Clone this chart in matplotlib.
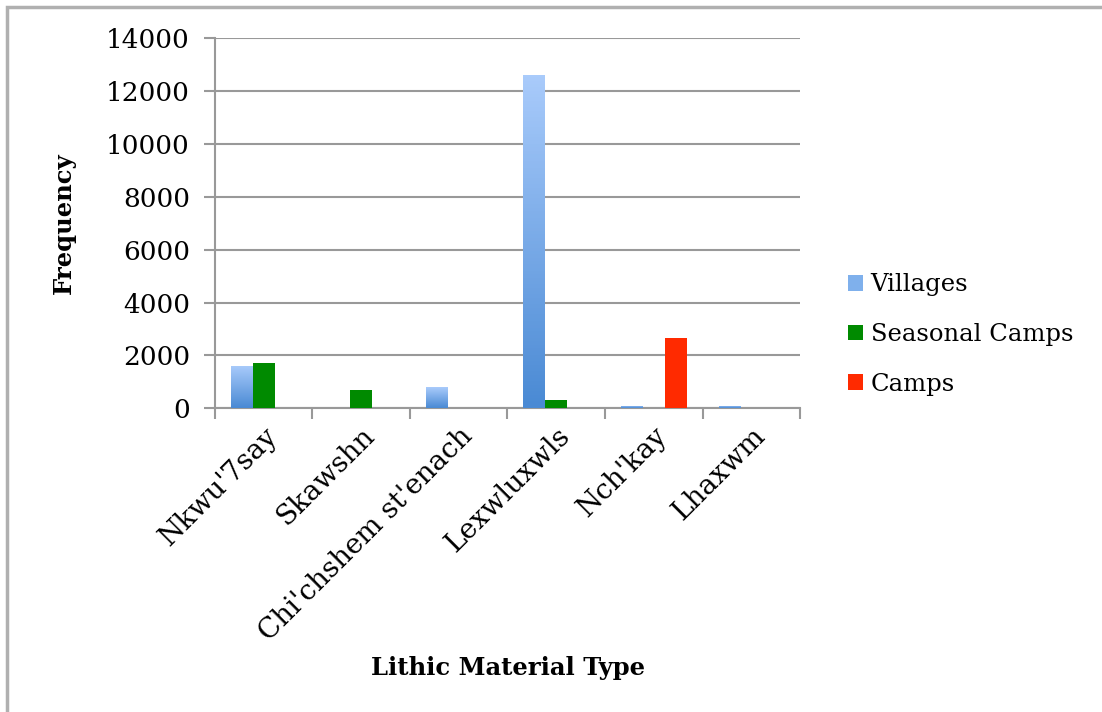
import numpy as np
import matplotlib.pyplot as plt
from matplotlib.colors import LinearSegmentedColormap
from matplotlib.patches import Rectangle, Patch

categories = ["Nkwu'7say", "Skawshn", "Chi'chshem st'enach", "Lexwluxwls", "Nch'kay", "Lhaxwm"]
villages = [1610, 0, 790, 12600, 100, 85]
seasonal_camps = [1720, 690, 0, 315, 0, 0]
camps = [0, 0, 0, 0, 2650, 0]

plt.rcParams['font.family'] = ['DejaVu Serif']

fig = plt.figure(figsize=(11.02, 7.12), dpi=100)
ax = fig.add_axes([0.195, 0.4265, 0.531, 0.52])

x = np.arange(len(categories)) + 0.5
w = 0.224

blue_grad = LinearSegmentedColormap.from_list("vill", ["#4a8ad4", "#a9cbfb"])
grad = np.linspace(0, 1, 100).reshape(-1, 1)

bars_v = ax.bar(x - w, villages, w, color="none", edgecolor="none", zorder=3)
for b in bars_v:
    h = b.get_height()
    if h <= 0:
        continue
    bx = b.get_x()
    im = ax.imshow(grad, cmap=blue_grad, aspect="auto", origin="lower",
                   extent=[bx, bx + w, 0, h], zorder=3)
    im.set_clip_path(b)

ax.bar(x, seasonal_camps, w, color="#008a00", edgecolor="none", zorder=3)
ax.bar(x + w, camps, w, color="#ff2a00", edgecolor="none", zorder=3)

ax.set_xlim(0, len(categories))
ax.set_ylim(0, 14000)
ax.set_yticks(np.arange(0, 14001, 2000))
ax.set_xticks(np.arange(0, len(categories) + 1), minor=False)
ax.set_xticklabels([])
ax.set_xticks(x, minor=True)
ax.set_xticklabels(categories, minor=True, rotation=45, ha="right",
                   rotation_mode="anchor", fontsize=20)
ax.tick_params(axis="x", which="minor", length=0, pad=10)
ax.tick_params(axis="x", which="major", length=8, width=1.5, color="#999999")
ax.tick_params(axis="y", length=8, width=1.5, color="#999999", labelsize=19, pad=10)

ax.yaxis.grid(True, color="#999999", linewidth=1.5, zorder=0)
ax.set_axisbelow(True)
for s in ["top", "right"]:
    ax.spines[s].set_visible(False)
for s in ["left", "bottom"]:
    ax.spines[s].set_color("#999999")
    ax.spines[s].set_linewidth(1.5)

ax.set_ylabel("Frequency", fontsize=17.5, fontweight="bold", labelpad=22)
fig.text(0.461, 0.062, "Lithic Material Type", fontsize=17.5, fontweight="bold",
         ha="center", va="center")

handles = [Patch(facecolor="#7fb0ec", label="Villages"),
           Patch(facecolor="#008a00", label="Seasonal Camps"),
           Patch(facecolor="#ff2a00", label="Camps")]
fig.legend(handles=handles, loc="center left", bbox_to_anchor=(0.75, 0.53),
           frameon=False, fontsize=17.5, handlelength=0.62, handleheight=0.62,
           handletextpad=0.3, labelspacing=1.1)

# outer frame
fig.patches.append(Rectangle((0.006, -0.05), 1.1, 1.04, transform=fig.transFigure,
                             fill=False, edgecolor="#b0b0b0", linewidth=2.5))

fig.savefig("out.png", dpi=100, facecolor="white")
